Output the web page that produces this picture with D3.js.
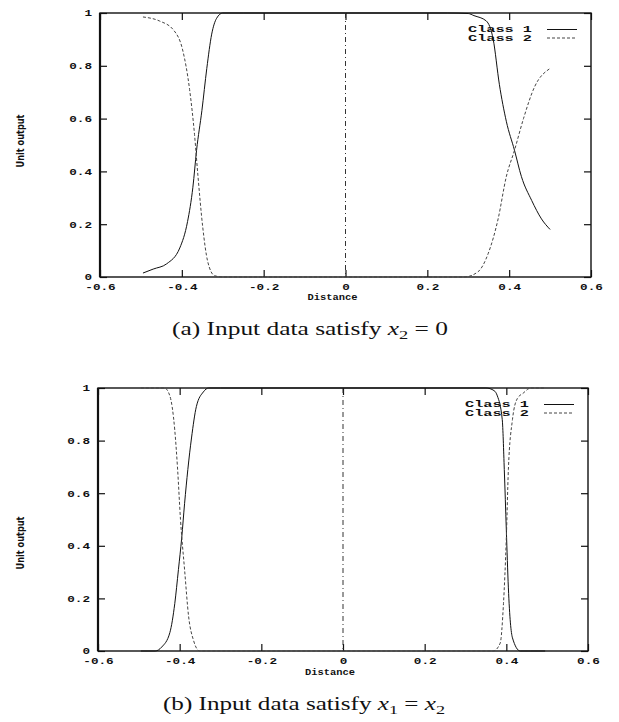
<!DOCTYPE html>
<html>
<head>
<meta charset="utf-8">
<script src="https://cdn.jsdelivr.net/npm/d3@7"></script>
<style>
    body { margin: 0; background: #fff; }
    svg { display: block; }
    .mono { font-family: "Liberation Mono", "DejaVu Sans Mono", monospace; font-weight: bold; fill: #111; }
    .cap { font-family: "Liberation Serif", "DejaVu Serif", serif; fill: #111; }
</style>
</head>
<body>
<svg id="fig" width="619" height="722"></svg>
<script>
// values
var xTicks = [-0.6, -0.4, -0.2, 0, 0.2, 0.4, 0.6];
var yTicks = [0, 0.2, 0.4, 0.6, 0.8, 1];
var legendNames = ["Class 1", "Class 2"];

// panel (a): input data satisfy x2 = 0
var aClass1X = [-0.495, -0.47, -0.437, -0.405, -0.386, -0.373, -0.364, -0.351, -0.339, -0.327, -0.315, -0.30, -0.25, 0, 0.25, 0.30, 0.314, 0.344, 0.361, 0.376, 0.393, 0.413, 0.43, 0.455, 0.479, 0.5];
var aClass1Y = [0.015, 0.03, 0.05, 0.11, 0.21, 0.34, 0.48, 0.63, 0.79, 0.92, 0.98, 1, 1, 1, 1, 0.998, 0.99, 0.97, 0.9, 0.73, 0.59, 0.48, 0.38, 0.29, 0.22, 0.18];
var aClass2X = [-0.495, -0.455, -0.42, -0.398, -0.381, -0.369, -0.361, -0.349, -0.337, -0.32, -0.3, 0, 0.29, 0.324, 0.349, 0.373, 0.393, 0.413, 0.435, 0.462, 0.5];
var aClass2Y = [0.985, 0.97, 0.935, 0.86, 0.71, 0.54, 0.39, 0.19, 0.06, 0.005, 0, 0, 0, 0.02, 0.09, 0.22, 0.38, 0.48, 0.6, 0.72, 0.79];

// panel (b): input data satisfy x1 = x2
var bClass1X = [-0.495, -0.46, -0.444, -0.424, -0.412, -0.403, -0.395, -0.388, -0.38, -0.371, -0.359, -0.342, -0.329, -0.3, 0, 0.35, 0.37, 0.378, 0.39, 0.395, 0.4, 0.405, 0.415, 0.434, 0.46, 0.495];
var bClass1Y = [0, 0, 0.015, 0.07, 0.18, 0.31, 0.43, 0.56, 0.69, 0.81, 0.93, 0.985, 1, 1, 1, 1, 0.99, 0.97, 0.88, 0.69, 0.46, 0.24, 0.05, 0, 0, 0];
var bClass2X = [-0.495, -0.45, -0.437, -0.424, -0.412, -0.405, -0.398, -0.388, -0.378, -0.366, -0.351, -0.33, 0, 0.35, 0.368, 0.385, 0.393, 0.4, 0.405, 0.415, 0.427, 0.441, 0.46, 0.495];
var bClass2Y = [1, 1, 1, 0.97, 0.84, 0.69, 0.5, 0.31, 0.13, 0.04, 0, 0, 0, 0, 0, 0.03, 0.18, 0.43, 0.69, 0.88, 0.96, 0.98, 1, 1];

var svg = d3.select("#fig");
svg.append("rect").attr("width", 619).attr("height", 722).attr("fill", "#fff");

drawPanel({
    left: 100, right: 591, top: 13, bottom: 277,
    ylabY: 141, distY: 300, capY: 335, capX: 172, capW: 276,
    c1x: aClass1X, c1y: aClass1Y, c2x: aClass2X, c2y: aClass2Y,
    capPre: "(a) Input data satisfy ", sub: "2", capPost: " = 0", sub2: null
});

drawPanel({
    left: 98, right: 588, top: 388, bottom: 651,
    ylabY: 543, distY: 675, capY: 710, capX: 163, capW: 282,
    c1x: bClass1X, c1y: bClass1Y, c2x: bClass2X, c2y: bClass2Y,
    capPre: "(b) Input data satisfy ", sub: "1", capPost: " = ", sub2: "2"
});

function drawPanel(p) {
    var x = d3.scaleLinear().domain([-0.6, 0.6]).range([p.left, p.right]);
    var y = d3.scaleLinear().domain([0, 1]).range([p.bottom, p.top]);
    var g = svg.append("g");

    //inward ticks on all four sides, labels only left and bottom
    var fmt = function (d) { return d === 0 ? "0" : String(+d.toFixed(1)); };

    var axB = g.append("g").attr("transform", "translate(0," + p.bottom + ")")
        .call(d3.axisBottom(x).tickValues(xTicks).tickSizeInner(-7).tickSizeOuter(0).tickPadding(7).tickFormat(fmt));
    var axT = g.append("g").attr("transform", "translate(0," + p.top + ")")
        .call(d3.axisTop(x).tickValues(xTicks).tickSizeInner(-7).tickSizeOuter(0).tickFormat(""));
    var axL = g.append("g").attr("transform", "translate(" + p.left + ",0)")
        .call(d3.axisLeft(y).tickValues(yTicks).tickSizeInner(-7).tickSizeOuter(0).tickPadding(8).tickFormat(fmt));
    var axR = g.append("g").attr("transform", "translate(" + p.right + ",0)")
        .call(d3.axisRight(y).tickValues(yTicks).tickSizeInner(-7).tickSizeOuter(0).tickFormat(""));

    [axB, axT, axL, axR].forEach(function (a) {
        a.select(".domain").remove();
        a.selectAll("line").attr("stroke", "#111").attr("stroke-width", 1.2);
    });

    // wide, squat typewriter glyphs like the old plot
    [axB, axL].forEach(function (a) {
        a.selectAll("text").attr("class", "mono")
            .style("font-size", "9px").attr("fill", "#111")
            .attr("textLength", function (d) { return fmt(d).length * 7.6; })
            .attr("lengthAdjust", "spacingAndGlyphs");
    });

    // frame
    g.append("rect")
        .attr("x", p.left).attr("y", p.top)
        .attr("width", p.right - p.left).attr("height", p.bottom - p.top)
        .attr("fill", "none").attr("stroke", "#111").attr("stroke-width", 1.4);
    g.append("line")
        .attr("x1", p.left).attr("x2", p.left).attr("y1", p.top).attr("y2", p.bottom)
        .attr("stroke", "#111").attr("stroke-width", 2.2);

    // dash-dot line at distance 0
    g.append("line")
        .attr("x1", x(0)).attr("x2", x(0)).attr("y1", p.top).attr("y2", p.bottom)
        .attr("stroke", "#333").attr("stroke-width", 1)
        .attr("stroke-dasharray", "5,3,1,3");

    var line = d3.line()
        .x(function (d) { return x(d[0]); })
        .y(function (d) { return y(d[1]); })
        .curve(d3.curveMonotoneX);

    var s1 = d3.zip(p.c1x, p.c1y);
    var s2 = d3.zip(p.c2x, p.c2y);

    g.append("path").datum(s1).attr("d", line)
        .attr("fill", "none").attr("stroke", "#111").attr("stroke-width", 1);
    g.append("path").datum(s2).attr("d", line)
        .attr("fill", "none").attr("stroke", "#444").attr("stroke-width", 1)
        .attr("stroke-dasharray", "3,2");

    // legend
    var lx = p.right - 123;
    legendNames.forEach(function (name, i) {
        g.append("text").attr("class", "mono")
            .attr("x", lx).attr("y", p.top + 19 + i * 8.5)
            .style("font-size", "8.5px")
            .attr("textLength", 64).attr("lengthAdjust", "spacingAndGlyphs")
            .text(name);
        g.append("line")
            .attr("x1", p.right - 44).attr("x2", p.right - 14)
            .attr("y1", p.top + 16.5 + i * 8.5).attr("y2", p.top + 16.5 + i * 8.5)
            .attr("stroke", i == 0 ? "#111" : "#444").attr("stroke-width", 1)
            .attr("stroke-dasharray", i == 0 ? null : "3,2");
    });

    // axis titles
    g.append("text").attr("class", "mono")
        .attr("x", x(0) - 38).attr("y", p.distY)
        .style("font-size", "8.5px")
        .attr("textLength", 50).attr("lengthAdjust", "spacingAndGlyphs")
        .text("Distance");

    g.append("text")
        .attr("transform", "translate(24," + p.ylabY + ") rotate(-90)")
        .attr("text-anchor", "middle")
        .attr("textLength", 53).attr("lengthAdjust", "spacingAndGlyphs")
        .style("font-family", "'Liberation Sans Narrow', 'DejaVu Sans Condensed', 'DejaVu Sans', sans-serif")
        .style("font-weight", "bold").style("font-size", "11px").attr("fill", "#111")
        .text("Unit output");

    // caption, stretched to the scanned width
    var cap = g.append("text").attr("class", "cap")
        .attr("x", p.capX).attr("y", p.capY).style("font-size", "18px")
        .attr("textLength", p.capW).attr("lengthAdjust", "spacingAndGlyphs");
    cap.append("tspan").text(p.capPre);
    cap.append("tspan").style("font-style", "italic").text("x");
    cap.append("tspan").attr("dy", 4).style("font-size", "13px").text(p.sub);
    cap.append("tspan").attr("dy", -4).text(p.capPost);
    if (p.sub2) {
        cap.append("tspan").style("font-style", "italic").text("x");
        cap.append("tspan").attr("dy", 4).style("font-size", "13px").text(p.sub2);
    }
}
</script>
</body>
</html>
